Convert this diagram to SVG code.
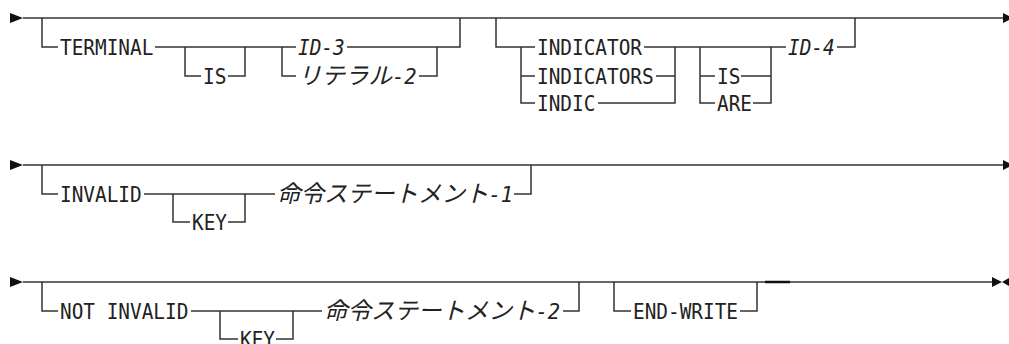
<svg xmlns="http://www.w3.org/2000/svg" width="1009" height="344" viewBox="0 0 1009 344">
<style>
.ln{fill:none;stroke:#333;stroke-width:1.5}
.thick{fill:none;stroke:#111;stroke-width:2.5}
.ar{fill:#111}
.kw{font-family:"DejaVu Sans Mono","Liberation Mono",monospace;font-size:19.4px;fill:#222}
.var{font-family:"DejaVu Sans Mono","Liberation Mono",monospace;font-size:19.4px;font-style:italic;fill:#222}
.suf{font-family:"DejaVu Sans Mono","Liberation Mono",monospace;font-size:20.5px;font-style:italic;fill:#222}
.jp{font-family:"Noto Sans CJK JP",sans-serif;font-size:23.5px;font-style:italic;fill:#222}
</style>
<rect width="1009" height="344" fill="#fff"/>
<g id="connectors">
  <polygon class="ar" points="10,13 23,18 10,23"/>
  <path class="ln" d="M23,18 H1003"/>
  <polygon class="ar" points="1003,13 1013,18 1003,23"/>
  <path class="ln" d="M42,18 V47 H58"/>
  <path class="ln" d="M155,47 H296"/>
  <path class="ln" d="M185,47 V76 H201"/>
  <path class="ln" d="M228,76 H245 V47"/>
  <path class="ln" d="M282,47 V76 H296"/>
  <path class="ln" d="M419,76 H437 V47"/>
  <path class="ln" d="M347,47 H460 V18"/>
  <path class="ln" d="M496,18 V47 H535"/>
  <path class="ln" d="M521,47 V103 H535 M521,76 H535"/>
  <path class="ln" d="M644,47 H675 M656,76 H675 M598,103 H675 V47"/>
  <path class="ln" d="M675,47 H786"/>
  <path class="ln" d="M700,47 V103 H715 M700,76 H715"/>
  <path class="ln" d="M741,76 H771 M753,103 H771 V47"/>
  <path class="ln" d="M837,47 H855 V18"/>
  <polygon class="ar" points="10,160 23,165 10,170"/>
  <path class="ln" d="M23,165 H1003"/>
  <polygon class="ar" points="1003,160 1013,165 1003,170"/>
  <path class="ln" d="M42,165 V194 H58"/>
  <path class="ln" d="M144,194 H275"/>
  <path class="ln" d="M173,194 V222 H190"/>
  <path class="ln" d="M228,222 H245 V194"/>
  <path class="ln" d="M514,194 H531 V165"/>
  <polygon class="ar" points="10,277 23,282 10,287"/>
  <path class="ln" d="M23,282 H992"/>
  <polygon class="ar" points="992,277 1002,282 992,287"/>
  <polygon class="ar" points="1009,278 1002,282 1009,286"/>
  <path class="ln" d="M42,282 V311 H58"/>
  <path class="ln" d="M191,311 H322"/>
  <path class="ln" d="M220,311 V339 H238"/>
  <path class="ln" d="M276,339 H293 V311"/>
  <path class="ln" d="M563,311 H579 V282"/>
  <path class="ln" d="M614,282 V311 H631"/>
  <path class="ln" d="M740,311 H757 V282"/>
  <path class="thick" d="M765,282 H790"/>
</g>
<g id="n-terminal"><text class="kw" transform="translate(60,54.5) scale(1,1.1)">TERMINAL</text></g>
<g id="n-is1"><text class="kw" transform="translate(203,83.5) scale(1,1.1)">IS</text></g>
<g id="n-id3"><text class="var" transform="translate(298,54.5) scale(1,1.1)">ID-3</text></g>
<g id="n-lit2"><text class="jp" x="298" y="84">リテラル<tspan class="suf">-2</tspan></text></g>
<g id="n-indicator"><text class="kw" transform="translate(537,54.5) scale(1,1.1)">INDICATOR</text></g>
<g id="n-indicators"><text class="kw" transform="translate(537,83.5) scale(1,1.1)">INDICATORS</text></g>
<g id="n-indic"><text class="kw" transform="translate(537,110.5) scale(1,1.1)">INDIC</text></g>
<g id="n-is2"><text class="kw" transform="translate(717,83.5) scale(1,1.1)">IS</text></g>
<g id="n-are"><text class="kw" transform="translate(717,110.5) scale(1,1.1)">ARE</text></g>
<g id="n-id4"><text class="var" transform="translate(788,54.5) scale(1,1.1)">ID-4</text></g>
<g id="n-invalid"><text class="kw" transform="translate(60,201.5) scale(1,1.1)">INVALID</text></g>
<g id="n-key1"><text class="kw" transform="translate(192,229.5) scale(1,1.1)">KEY</text></g>
<g id="n-stmt1"><text class="jp" x="277" y="202">命令ステートメント<tspan class="suf">-1</tspan></text></g>
<g id="n-notinvalid"><text class="kw" transform="translate(60,318.5) scale(1,1.1)">NOT INVALID</text></g>
<g id="n-key2"><text class="kw" transform="translate(240,346.5) scale(1,1.1)">KEY</text></g>
<g id="n-stmt2"><text class="jp" x="324" y="319">命令ステートメント<tspan class="suf">-2</tspan></text></g>
<g id="n-endwrite"><text class="kw" transform="translate(633,318.5) scale(1,1.1)">END-WRITE</text></g>
</svg>
